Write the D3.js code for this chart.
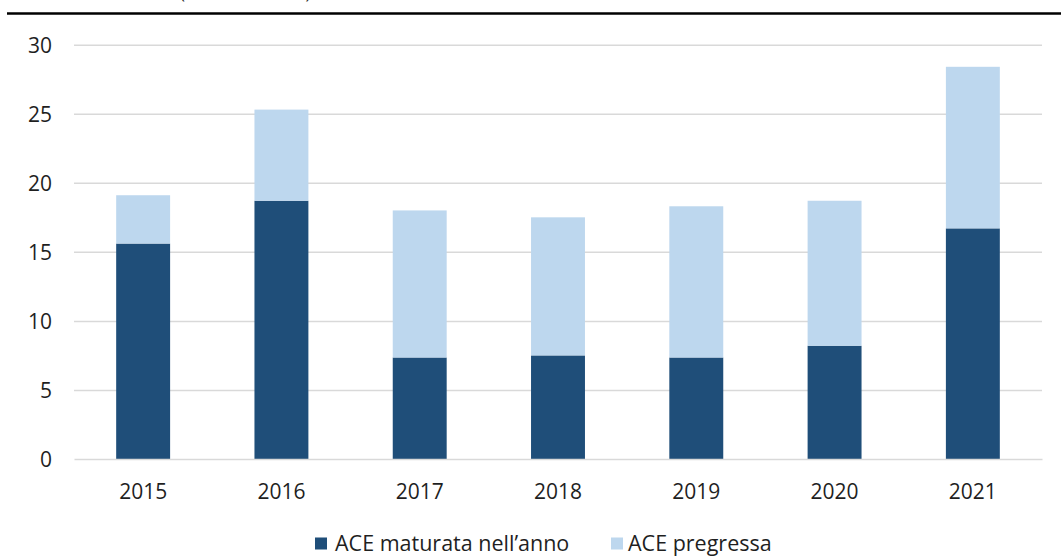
<!DOCTYPE html>
<html>
<head>
<meta charset="utf-8">
<script src="https://cdn.jsdelivr.net/npm/d3@7"></script>
<style>
  html, body { margin: 0; padding: 0; background: #fff; }
  svg { display: block; }
  text { font-family: "Open Sans", "DejaVu Sans", sans-serif; fill: #1f1f1f; }
</style>
</head>
<body>
<svg id="chart" width="1061" height="556"></svg>
<script>
const years = ["2015", "2016", "2017", "2018", "2019", "2020", "2021"];
const aceMaturata = [15.6, 18.7, 7.35, 7.5, 7.35, 8.2, 16.7];
const acePregressa = [3.5, 6.6, 10.65, 10.0, 10.95, 10.5, 11.7];
const seriesNames = ["ACE maturata nell\u2019anno", "ACE pregressa"];
const seriesColors = ["#1F4E79", "#BDD7EE"];
const yTicks = [0, 5, 10, 15, 20, 25, 30];
const titleFragment = "(miliardi di euro)";

const svg = d3.select("#chart");
const W = 1061, H = 556;
const margin = { left: 74, right: 19, top: 44.7, bottom: 97 };

const rows = years.map((y, i) => ({ year: y, maturata: aceMaturata[i], pregressa: acePregressa[i] }));
const stack = d3.stack().keys(["maturata", "pregressa"]);
const layers = stack(rows);

const x = d3.scaleBand().domain(years).range([margin.left, W - margin.right]).paddingInner(0.61).paddingOuter(0.305);
const y = d3.scaleLinear().domain([0, 30]).range([H - margin.bottom, margin.top]);

// cut-off title fragment and top rule
svg.append("text").attr("x", 180).attr("y", -1).attr("font-size", 17).text(titleFragment);
svg.append("line").attr("x1", 7).attr("x2", W).attr("y1", 13.5).attr("y2", 13.5)
  .attr("stroke", "#000").attr("stroke-width", 2.5);

// gridlines
const grid = svg.append("g")
  .attr("transform", `translate(${margin.left},0)`)
  .call(d3.axisLeft(y).tickValues(yTicks.filter(d => d > 0)).tickSize(-(W - margin.left - margin.right)).tickFormat(""));
grid.select(".domain").remove();
grid.selectAll("line").attr("stroke", "#D9D9D9").attr("stroke-width", 1.5);

// y labels
const yAxis = svg.append("g")
  .attr("transform", `translate(${margin.left},0)`)
  .call(d3.axisLeft(y).tickValues(yTicks).tickSize(0).tickPadding(22).tickFormat(d3.format("d")));
yAxis.select(".domain").remove();
yAxis.selectAll("text").attr("font-size", 21).attr("font-family", "Open Sans").attr("fill", "#1f1f1f").attr("dy", "0.35em");

// bars
svg.append("g").selectAll("g").data(layers).join("g")
  .attr("fill", (d, i) => seriesColors[i])
  .selectAll("rect").data(d => d).join("rect")
  .attr("x", d => x(d.data.year))
  .attr("width", x.bandwidth())
  .attr("y", d => y(d[1]))
  .attr("height", d => y(d[0]) - y(d[1]));

// x axis
const xAxis = svg.append("g")
  .attr("transform", `translate(0,${y(0)})`)
  .call(d3.axisBottom(x).tickSize(0).tickPadding(25));
xAxis.select(".domain").attr("stroke", "#D9D9D9").attr("stroke-width", 1.5);
xAxis.selectAll("text").attr("font-size", 21).attr("font-family", "Open Sans").attr("fill", "#1f1f1f");

// legend
const legendItems = [{ x: 315, textX: 335 }, { x: 611, textX: 628 }];
const legend = svg.append("g");
seriesNames.forEach((name, i) => {
  legend.append("rect").attr("x", legendItems[i].x).attr("y", 537.5).attr("width", 12).attr("height", 12)
    .attr("fill", seriesColors[i]);
  legend.append("text").attr("x", legendItems[i].textX).attr("y", 551)
    .attr("font-size", 21.5).text(name);
});
</script>
</body>
</html>
